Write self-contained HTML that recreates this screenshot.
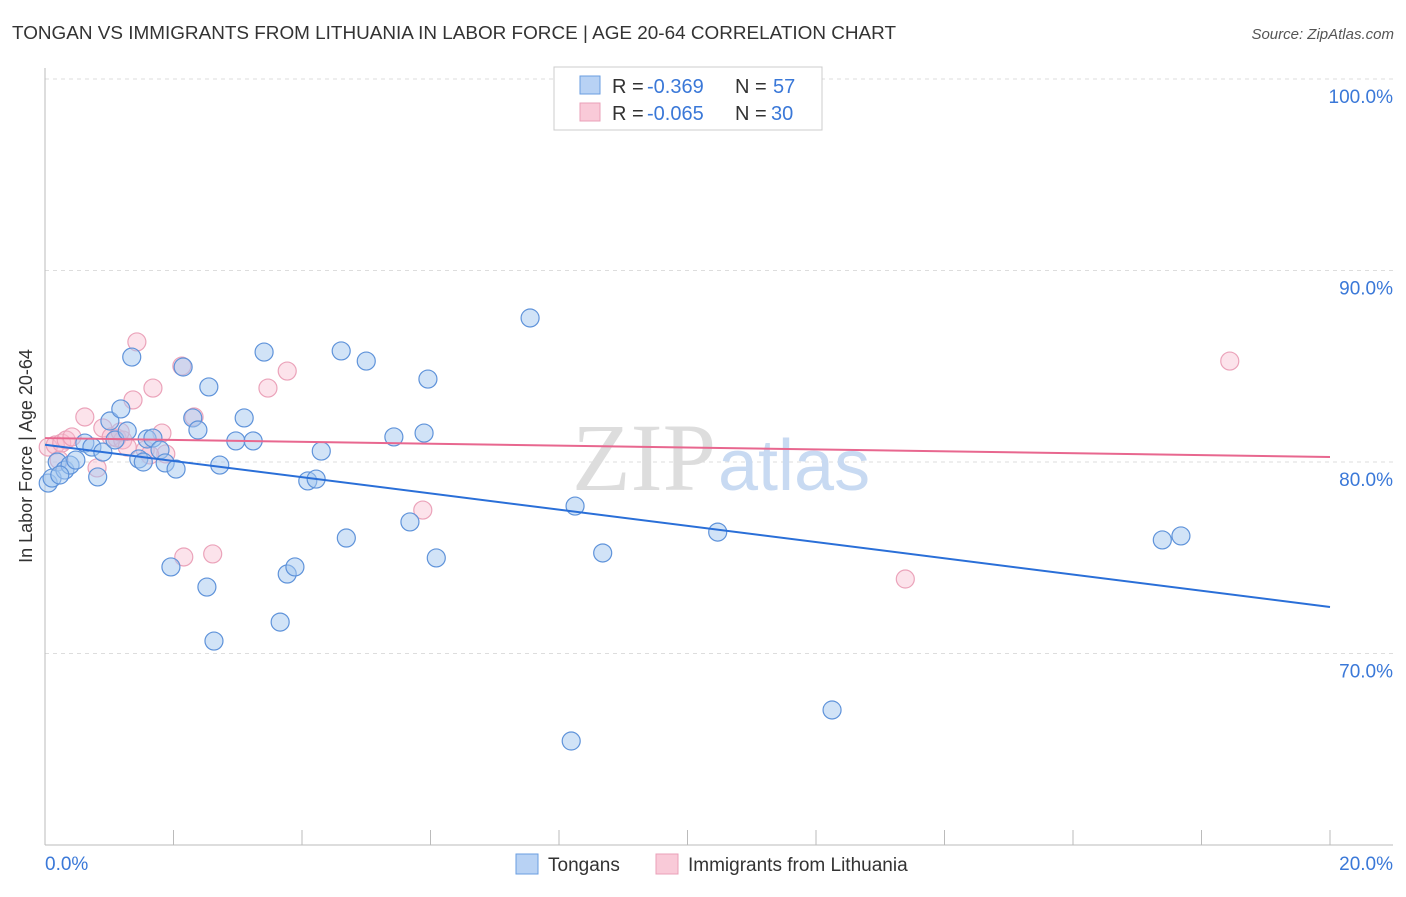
<!DOCTYPE html>
<html><head><meta charset="utf-8"><style>
body{margin:0;background:#fff;font-family:"Liberation Sans",sans-serif;}
</style></head><body>
<svg width="1406" height="892" xmlns="http://www.w3.org/2000/svg">
<text x="12" y="39" font-size="18" fill="#333" textLength="884" lengthAdjust="spacingAndGlyphs">TONGAN VS IMMIGRANTS FROM LITHUANIA IN LABOR FORCE | AGE 20-64 CORRELATION CHART</text>
<text x="1394" y="39" font-size="15" fill="#555" font-style="italic" text-anchor="end">Source: ZipAtlas.com</text>
<g id="grid"></g>
<text x="716" y="490" font-size="96" fill="#ddd" font-family="Liberation Serif" text-anchor="end">ZIP</text>
<text x="718" y="490" font-size="72" fill="#c8daf2">atlas</text>
<g id="marks"></g>
<text x="32" y="456" font-size="18" fill="#333" text-anchor="middle" transform="rotate(-90 32 456)">In Labor Force | Age 20-64</text>
<g>
<rect x="554" y="67" width="268" height="63" fill="#fff" stroke="#ccc"/>
<rect x="580" y="76" width="20" height="18" fill="#b8d2f4" stroke="#6a9ee0"/>
<rect x="580" y="103" width="20" height="18" fill="#f9cad8" stroke="#eaa0b8"/>
<text x="612" y="93" font-size="20" fill="#333">R =</text>
<text x="647" y="93" font-size="20" fill="#3a78d8">-0.369</text>
<text x="735" y="93" font-size="20" fill="#333">N =</text>
<text x="773" y="93" font-size="20" fill="#3a78d8">57</text>
<text x="612" y="120" font-size="20" fill="#333">R =</text>
<text x="647" y="120" font-size="20" fill="#3a78d8">-0.065</text>
<text x="735" y="120" font-size="20" fill="#333">N =</text>
<text x="771" y="120" font-size="20" fill="#3a78d8">30</text>
</g>
<g>
<rect x="516" y="854" width="22" height="20" fill="#b8d2f4" stroke="#6a9ee0"/>
<text x="548" y="871" font-size="19" fill="#333">Tongans</text>
<rect x="656" y="854" width="22" height="20" fill="#f9cad8" stroke="#eaa0b8"/>
<text x="688" y="871" font-size="19" fill="#333">Immigrants from Lithuania</text>
</g>
</svg>
<script>
const xTicks=[0,20];
const yTicks=[70,80,90,100];
const blueX=[0.05,0.11,0.19,0.31,0.39,0.48,0.62,0.73,0.82,0.90,1.01,1.09,1.18,1.28,1.35,1.46,1.53,1.59,1.68,1.79,1.87,1.96,2.04,2.15,2.30,2.38,2.52,2.55,2.63,2.72,2.97,3.10,3.24,3.41,3.66,3.77,3.89,4.09,4.22,4.30,4.61,4.69,5.00,5.43,5.68,5.90,5.96,6.09,7.55,8.19,8.25,8.68,10.47,12.25,17.39,17.68,0.23];
const blueY=[78.90,79.16,80.0,79.58,79.84,80.10,80.99,80.78,79.22,80.52,82.14,81.15,82.77,81.62,85.48,80.16,80.0,81.20,81.25,80.63,79.95,74.52,79.63,84.96,82.30,81.67,73.47,83.92,70.65,79.84,81.10,82.30,81.10,85.74,71.64,74.15,74.52,79.01,79.11,80.57,85.80,76.03,85.27,81.31,76.87,81.51,84.33,74.99,87.52,65.43,77.70,75.25,76.34,67.05,75.93,76.14,79.32];
const pinkX=[0.05,0.16,0.26,0.33,0.42,0.62,0.81,0.90,1.03,1.12,1.21,1.28,1.37,1.43,1.56,1.68,1.82,1.88,2.13,2.16,2.32,2.61,3.47,3.77,5.88,13.39,18.44,0.22,1.17,1.63];
const pinkY=[80.78,80.89,80.99,81.15,81.31,82.35,79.69,81.78,81.31,81.25,81.15,80.78,83.24,86.27,80.63,83.86,81.51,80.42,85.01,75.04,82.35,75.20,83.86,84.75,77.49,73.89,85.27,80.10,81.57,80.37];
const blueTrend=[80.9,72.43];
const pinkTrend=[81.25,80.26];
const X0=45,X1=1330;
const sx=v=>X0+(v/20)*(X1-X0);
const sy=v=>79+(100-v)*19.15;
const NS="http://www.w3.org/2000/svg";
function mk(tag,attrs,parent){const e=document.createElementNS(NS,tag);for(const k in attrs)e.setAttribute(k,attrs[k]);parent.appendChild(e);return e;}
const grid=document.getElementById('grid');
yTicks.forEach(t=>{
 const l=mk('line',{x1:X0,x2:1393,y1:sy(t),y2:sy(t),stroke:'#ddd','stroke-dasharray':'4,4'},grid);
 
 
 const tx=mk('text',{x:1393,y:sy(t)+24,'font-size':19,fill:'#3a78d8','text-anchor':'end'},grid);
 tx.textContent=t.toFixed(1)+'%';
 
 
});
const ax=mk('line',{x1:X0,x2:X0,y1:68,y2:845,stroke:'#bbb'},grid);


const bx=mk('line',{x1:X0,x2:1393,y1:845,y2:845,stroke:'#bbb'},grid);


for(let i=1;i<=10;i++){const t=mk('line',{x1:sx(i*2),x2:sx(i*2),y1:830,y2:845,stroke:'#bbb'},grid);
 
 }
xTicks.forEach((t,i)=>{const tx=mk('text',{x:i?1393:45,y:870,'font-size':19,fill:'#3a78d8','text-anchor':i?'end':'start'},grid);
 tx.textContent=t.toFixed(1)+'%';
 
 });
const marks=document.getElementById('marks');
pinkX.forEach((x,i)=>{const c=mk('circle',{cx:sx(x),cy:sy(pinkY[i]),r:9,fill:'rgba(248,185,205,0.4)',stroke:'#eba3ba','stroke-width':1.2},marks);
 
 });
blueX.forEach((x,i)=>{const c=mk('circle',{cx:sx(x),cy:sy(blueY[i]),r:9,fill:'rgba(164,200,240,0.5)',stroke:'#5f93da','stroke-width':1.2},marks);
 
 });
const bl=mk('line',{x1:sx(0),x2:sx(20),y1:sy(blueTrend[0]),y2:sy(blueTrend[1]),stroke:'#2a6fd8','stroke-width':2},marks);


const pl=mk('line',{x1:sx(0),x2:sx(20),y1:sy(pinkTrend[0]),y2:sy(pinkTrend[1]),stroke:'#e8678f','stroke-width':2},marks);


</script>
</body></html>
